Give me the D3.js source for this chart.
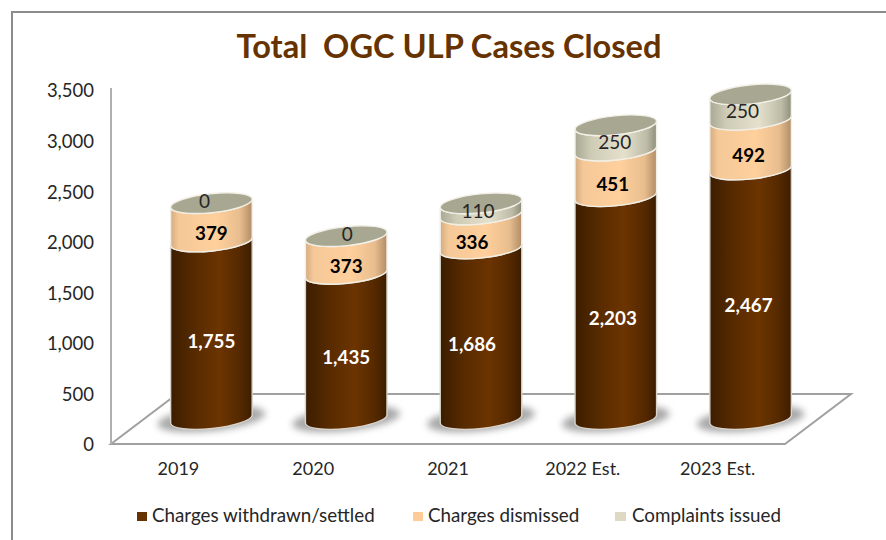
<!DOCTYPE html>
<html><head><meta charset="utf-8">
<script src="https://cdn.jsdelivr.net/npm/d3@7"></script>
<style>html,body{margin:0;padding:0;background:#fff}svg{display:block}text{font-family:Lato,"Open Sans",sans-serif}</style>
</head><body><svg id="c" width="886" height="540"></svg>
<script>
const titleText = "Total  OGC ULP Cases Closed";
const categories = ["2019","2020","2021","2022 Est.","2023 Est."];
const seriesNames = ["Charges withdrawn/settled","Charges dismissed","Complaints issued"];
const withdrawn = [1755,1435,1686,2203,2467];
const dismissed = [379,373,336,451,492];
const complaints = [0,0,110,250,250];
const yTicks = [0,500,1000,1500,2000,2500,3000,3500];

const svg = d3.select("#c");
const ink = "#262626";
const X0=111, X1=785, DX=33, DY=25, RX=41, RY=9.5, TILT=-6;
const x = d3.scaleBand().domain(categories).range([X0,X1]);
const y = d3.scaleLinear().domain([0,3500]).range([444,90]);
const rows = categories.map((c,i)=>({c,i,vals:[withdrawn[i],dismissed[i],complaints[i]]}));

// frame
svg.append("path").attr("d","M12,540V12H886").attr("fill","none").attr("stroke","#8c8c8c").attr("stroke-width",2);
// title
svg.append("text").attr("x",449).attr("y",58).attr("text-anchor","middle").attr("font-size",32.6).attr("font-weight",700)
  .attr("fill","#663300").style("white-space","pre").text(titleText);

// gradients
const defs = svg.append("defs");
const grads = [
 [["0","#3c1d00"],[".3","#582b00"],[".6","#6c3400"],[".85","#552900"],["1","#3c1d00"]],
 [["0","#d4ac80"],[".1","#f5c898"],[".55","#ffd09c"],[".85","#e8bd8e"],["1","#b08c66"]],
 [["0","#a8a894"],[".2","#cfccb6"],[".6","#e4e0cc"],[".88","#bdbba6"],["1","#8e8e7a"]]
];
grads.forEach((g,k)=>{
  const lg=defs.append("linearGradient").attr("id","g"+k).attr("x1",0).attr("x2",1).attr("y1",0).attr("y2",0);
  g.forEach(s=>lg.append("stop").attr("offset",s[0]).attr("stop-color",s[1]));
});
defs.append("filter").attr("id","blur").attr("x","-30%").attr("y","-60%").attr("width","160%").attr("height","220%")
  .append("feGaussianBlur").attr("stdDeviation",3.5);

// axis lines and floor
const floor = [[X0,y(0)],[X1,y(0)],[X1+2*DX,y(0)-2*DY],[X0+2*DX,y(0)-2*DY]];
svg.append("path").attr("d",d3.line()(floor)+"Z").attr("fill","#fff").attr("stroke","#a0a0a0").attr("stroke-width",2);
svg.append("line").attr("x1",X0).attr("x2",X0).attr("y1",y(0)).attr("y2",88).attr("stroke","#b0b0b0").attr("stroke-width",2);

// axes
const ya = svg.append("g").attr("transform","translate(94,1)")
  .call(d3.axisLeft(y).tickValues(yTicks).tickFormat(d3.format(",")).tickSize(0).tickPadding(0));
ya.select(".domain").remove();
ya.selectAll("text").attr("font-size",18.5).attr("fill",ink).style("font-family","Lato,sans-serif");
const xa = svg.append("g").attr("transform","translate(0,462)")
  .call(d3.axisBottom(x).tickSize(0).tickPadding(0));
xa.select(".domain").remove();
xa.selectAll("text").attr("font-size",18).attr("fill",ink).attr("dy","0.72em").style("font-family","Lato,sans-serif");

// cylinders
const th = TILT*Math.PI/180, ex = RX*Math.cos(th), ey = RX*Math.sin(th);
const cx = d => x(d.c)+x.bandwidth()/2+DX;
const vy = v => y(v)-DY;
const arc = (sw,px,py)=>`A${RX},${RY} ${TILT} 0 ${sw} ${px},${py}`;
const seg = (c,a,b)=>`M${c-ex},${vy(a)-ey}${arc(0,c+ex,vy(a)+ey)}L${c+ex},${vy(b)+ey}${arc(1,c-ex,vy(b)-ey)}Z`;

svg.append("g").selectAll("ellipse").data(rows).join("ellipse")
  .attr("rx",54).attr("ry",12).attr("fill","#8a8a8a").attr("opacity",.75).attr("filter","url(#blur)")
  .attr("transform",d=>`translate(${cx(d)},${vy(0)}) rotate(${TILT})`);

const bars = svg.append("g").selectAll("g").data(rows).join("g");
bars.each(function(d){
  const g=d3.select(this), c=cx(d); let acc=0;
  d.vals.forEach((v,k)=>{
    if(v>0) g.append("path").attr("d",seg(c,acc,acc+v)).attr("fill",`url(#g${k})`)
      .attr("stroke",k===0?"#d8d4cc":"#f2efe6").attr("stroke-width",1.4);
    acc+=v;
  });
  g.append("ellipse").attr("rx",RX).attr("ry",RY).attr("fill","#a7a792").attr("stroke","#f2efe6").attr("stroke-width",1.4)
    .attr("transform",`translate(${c},${vy(acc)}) rotate(${TILT})`);
});

// data labels
const nudgeX = [0,0,-9,-3,-2];
const nudgeTop = [-7,1,-3,-1,-8];
const dyBy = [11,11,4];
const fmt = d3.format(",");
rows.forEach(d=>{
  let acc=0;
  d.vals.forEach((v,k)=>{
    const mid=acc+v/2; acc+=v;
    const extra = k===2 && v<200 ? (v===0?-6:-2) : 0;
    svg.append("text").attr("x",cx(d)+(k===2?nudgeTop[d.i]:nudgeX[d.i])).attr("y",vy(mid)+dyBy[k]+extra)
      .attr("dy","0.35em").attr("text-anchor","middle").attr("font-size",k===2?19:18.8)
      .attr("font-weight",k===2?400:700).attr("fill",k===0?"#fff":(k===1?"#000":ink)).text(fmt(v));
  });
});

// legend
const legX=[137,413,615], legT=[152,428,632], legC=["#663300","#ffcc99","#ddd9c3"];
seriesNames.forEach((n,k)=>{
  svg.append("rect").attr("x",legX[k]).attr("y",512).attr("width",k===2?11:10).attr("height",9).attr("fill",legC[k]);
  svg.append("text").attr("x",legT[k]).attr("y",522).attr("font-size",18.8).attr("fill",ink).text(n);
});
</script></body></html>
